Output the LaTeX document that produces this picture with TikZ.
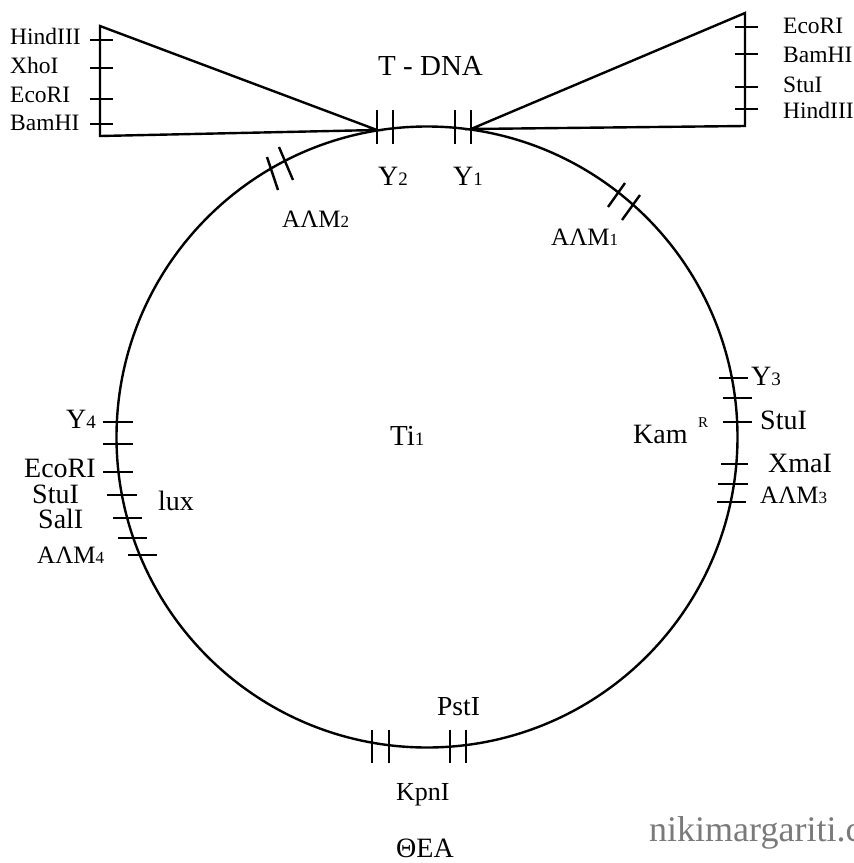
\documentclass[tikz,border=0pt]{standalone}
\usepackage{fontspec}
\setmainfont{Liberation Serif}
\newcommand\dig[1]{{\fontsize{19}{20}\selectfont #1}}
\newcommand\sdig[1]{{\fontsize{17}{18}\selectfont #1}}
\begin{document}
\begin{tikzpicture}[x=1pt,y=-1pt,line width=2.4pt,
  site/.style={inner sep=0pt,anchor=base west,font=\fontsize{23.5}{26}\selectfont},
  lab/.style={inner sep=0pt,anchor=base west,font=\fontsize{28}{30}\selectfont},
  alm/.style={inner sep=0pt,anchor=base west,font=\fontsize{25}{27}\selectfont},
  tickln/.style={line width=2.4pt}]
\useasboundingbox (0,0) rectangle (854,863);
\clip (0,0) rectangle (854,863);
\node[inner sep=0pt,anchor=base west,font=\fontsize{36}{38}\selectfont,text=black!52] (wm3) at (648,841) {nikimargariti.com};
% plasmid circle
\coordinate (c) at (427,437);
\draw (c) circle[radius=310.5pt];
% T-DNA triangles
\coordinate (L) at (377,130);
\coordinate (LT) at (100,26);
\coordinate (LB) at (100,136);
\draw[line join=miter] (L) -- (LT) -- (LB) -- cycle;
\coordinate (R) at (471,129);
\coordinate (RT) at (745,13);
\coordinate (RB) at (745,126);
\draw[line join=miter] (R) -- (RT) -- (RB) -- cycle;
\foreach \y in {40,68,99,124} \draw[tickln] (90,\y) -- (113,\y);
\foreach \y in {27,54,87,109} \draw[tickln] (735,\y) -- (758,\y);
% top ticks
\foreach \x in {377,393,455,471} \draw[tickln] (\x,110) -- (\x,144);
% ALM2, ALM1 ticks
\draw[tickln] (267,157) -- (278,190);
\draw[tickln] (279,147) -- (293,180);
\draw[tickln] (608,207) -- (625,183);
\draw[tickln] (622,220) -- (640,195);
% right ticks
\draw[tickln] (719,378) -- (748,378);
\draw[tickln] (723,398) -- (752,398);
\draw[tickln] (723,422) -- (752,422);
\draw[tickln] (721,464) -- (748,464);
\draw[tickln] (718,484) -- (748,484);
\draw[tickln] (717,502) -- (746,502);
% left ticks
\draw[tickln] (103,422) -- (133,422);
\draw[tickln] (103,444) -- (133,444);
\draw[tickln] (103,472) -- (133,472);
\draw[tickln] (107,495) -- (137,495);
\draw[tickln] (113,518) -- (142,518);
\draw[tickln] (118,538) -- (147,538);
\draw[tickln] (128,555) -- (157,555);
% bottom ticks
\foreach \x in {372,389,450,466} \draw[tickln] (\x,730) -- (\x,763);
% labels top left
\node[site] (l1) at (9,44) {HindIII};
\node[site] (l2) at (9,73) {XhoI};
\node[site] (l3) at (9,102) {EcoRI};
\node[site] (l4) at (9,130) {BamHI};
% labels top right
\node[site] (r1) at (782,33) {EcoRI};
\node[site] (r2) at (782,62) {BamHI};
\node[site] (r3) at (782,92) {StuI};
\node[site] (r4) at (782,118) {HindIII};
\node[inner sep=0pt,anchor=base west,font=\fontsize{29}{31}\selectfont] (tdna) at (377,75) {T - DNA};
\node[lab] (y2) at (377,185) {Y\dig{2}};
\node[lab] (y1) at (452,185) {Y\dig{1}};
\node[alm] (alm2) at (281,227) {ΑΛΜ\sdig{2}};
\node[alm] (alm1) at (550,245) {ΑΛΜ\sdig{1}};
% right labels
\node[lab] (y3) at (750,385) {Y\dig{3}};
\node[lab] (stu) at (759,429) {StuI};
\node[lab] (xma) at (767,472) {XmaI};
\node[alm] (alm3) at (759,503) {ΑΛΜ\sdig{3}};
\node[lab] (kam) at (632,443) {Kam};
\node[inner sep=0pt,anchor=base west,font=\fontsize{15}{16}\selectfont] (kamr) at (697,427) {R};
% left labels
\node[lab] (y4) at (65,428) {Y\dig{4}};
\node[lab] (eco) at (23,477) {EcoRI};
\node[lab] (stul) at (31,503) {StuI};
\node[lab] (sal) at (37,528) {SalI};
\node[alm] (alm4) at (36,563) {ΑΛΜ\sdig{4}};
\node[lab] (lux) at (157,510) {lux};
% centre and bottom
\node[inner sep=0pt,anchor=base west,font=\fontsize{29}{31}\selectfont] (ti) at (389,445) {Ti\dig{1}};
\node[inner sep=0pt,anchor=base west,font=\fontsize{27.5}{30}\selectfont] (pst) at (436,715) {PstI};
\node[inner sep=0pt,anchor=base west,font=\fontsize{26}{28}\selectfont] (kpn) at (395,800) {KpnI};
\node[lab] (thea) at (395,857) {ΘΕΑ};
\end{tikzpicture}
\end{document}
